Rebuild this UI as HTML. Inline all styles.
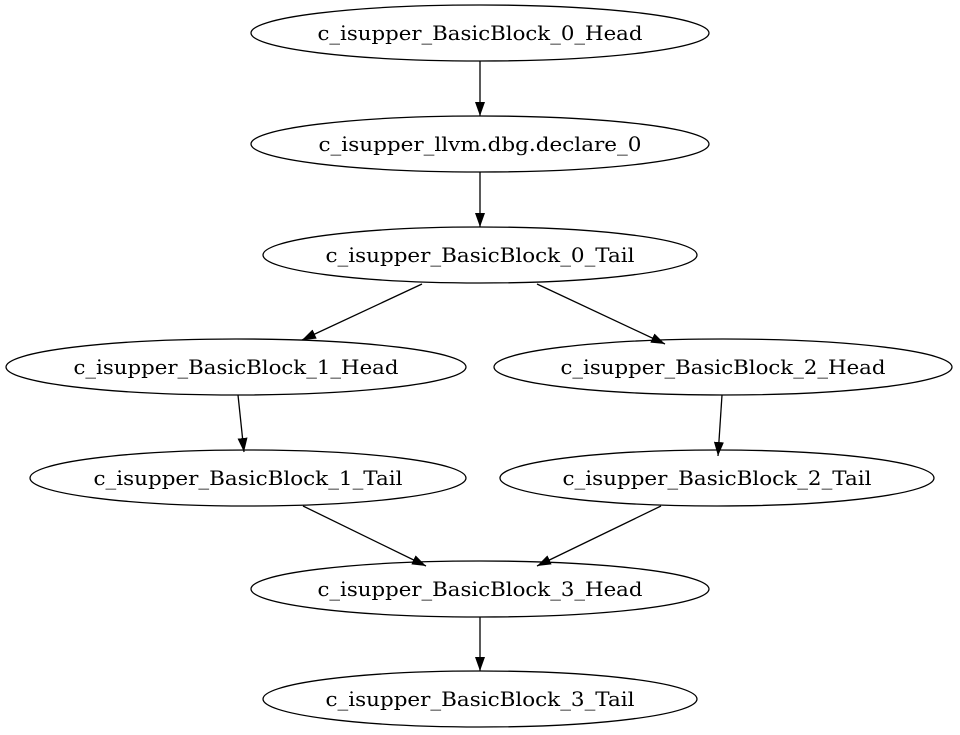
<!DOCTYPE html>
<html><head><meta charset="utf-8"><style>
html,body{margin:0;padding:0;background:#fff;}
svg{display:block;}
text{font-family:"DejaVu Serif","Liberation Serif",serif;font-size:20px;fill:#000;}
</style></head><body>
<svg width="960" height="735" viewBox="0 0 960 735" xmlns="http://www.w3.org/2000/svg">
<defs>
<marker id="a" viewBox="0 0 14 10" refX="14" refY="5" markerWidth="14" markerHeight="10" markerUnits="userSpaceOnUse" orient="auto">
<polygon points="0,0 14,5 0,10" fill="#000"/>
</marker>
</defs>
<g fill="none" stroke="#000" stroke-width="1.3">
<ellipse cx="480" cy="33" rx="229" ry="28"/>
<ellipse cx="480" cy="144" rx="229" ry="28"/>
<ellipse cx="480" cy="255" rx="217" ry="28"/>
<ellipse cx="236" cy="367" rx="230" ry="28"/>
<ellipse cx="723" cy="367" rx="229" ry="28"/>
<ellipse cx="248" cy="478" rx="218" ry="28"/>
<ellipse cx="717" cy="478" rx="217" ry="28"/>
<ellipse cx="480" cy="589" rx="229" ry="28"/>
<ellipse cx="480" cy="699" rx="217" ry="28"/>
<line x1="480" y1="61" x2="480" y2="116" marker-end="url(#a)"/>
<line x1="480" y1="172" x2="480" y2="227" marker-end="url(#a)"/>
<line x1="422" y1="284" x2="302" y2="340" marker-end="url(#a)"/>
<line x1="537" y1="284" x2="665" y2="344" marker-end="url(#a)"/>
<line x1="238" y1="395" x2="244" y2="452" marker-end="url(#a)"/>
<line x1="722" y1="395" x2="718" y2="456" marker-end="url(#a)"/>
<line x1="303" y1="506" x2="426" y2="566" marker-end="url(#a)"/>
<line x1="661" y1="506" x2="537" y2="566" marker-end="url(#a)"/>
<line x1="480" y1="617" x2="480" y2="671" marker-end="url(#a)"/>
</g>
<g text-anchor="middle" lengthAdjust="spacingAndGlyphs">
<text x="480" y="40" textLength="325" lengthAdjust="spacingAndGlyphs">c_isupper_BasicBlock_0_Head</text>
<text x="480" y="151" textLength="323" lengthAdjust="spacingAndGlyphs">c_isupper_llvm.dbg.declare_0</text>
<text x="480" y="262" textLength="309" lengthAdjust="spacingAndGlyphs">c_isupper_BasicBlock_0_Tail</text>
<text x="236" y="374" textLength="325" lengthAdjust="spacingAndGlyphs">c_isupper_BasicBlock_1_Head</text>
<text x="723" y="374" textLength="325" lengthAdjust="spacingAndGlyphs">c_isupper_BasicBlock_2_Head</text>
<text x="248" y="485" textLength="309" lengthAdjust="spacingAndGlyphs">c_isupper_BasicBlock_1_Tail</text>
<text x="717" y="485" textLength="309" lengthAdjust="spacingAndGlyphs">c_isupper_BasicBlock_2_Tail</text>
<text x="480" y="596" textLength="325" lengthAdjust="spacingAndGlyphs">c_isupper_BasicBlock_3_Head</text>
<text x="480" y="706" textLength="309" lengthAdjust="spacingAndGlyphs">c_isupper_BasicBlock_3_Tail</text>
</g>
</svg>
</body></html>
